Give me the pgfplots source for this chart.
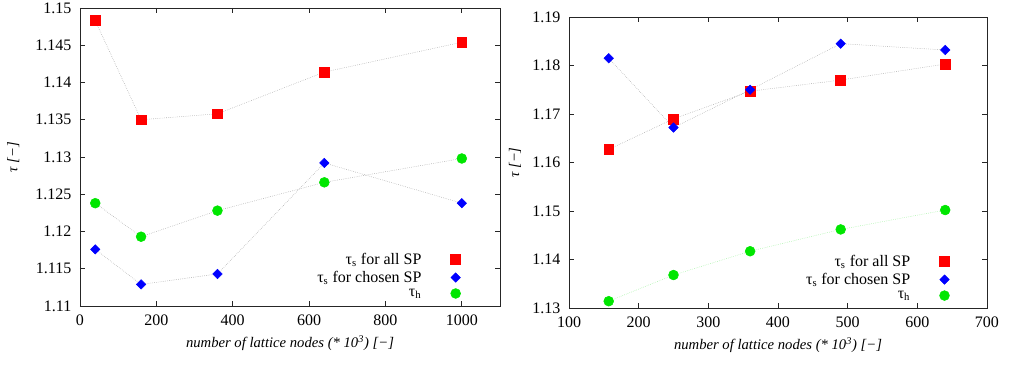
\documentclass[border=0pt]{standalone}
\usepackage{fontspec}
\setmainfont{Liberation Serif}
\usepackage{pgfplots}
\pgfplotsset{compat=1.18}
\definecolor{pred}{RGB}{255,0,0}
\definecolor{pblue}{RGB}{0,0,255}
\definecolor{pgreen}{RGB}{0,230,0}
\definecolor{lgray}{RGB}{160,160,160}
\definecolor{lgreen}{RGB}{150,240,150}
\pgfplotsset{mystyle/.style={
  scale only axis,
  tick align=inside,
  axis line style={black!85, line width=0.6pt},
  major tick style={black!85, line width=0.5pt},
  major tick length=4pt,
  tick label style={font=\fontsize{12}{14}\selectfont},
  label style={font=\fontsize{11}{13}\selectfont\itshape},
  /pgf/number format/assume math mode=true,
  /pgf/number format/precision=3,
  /pgf/number format/1000 sep={},
  yticklabel style={/pgf/number format/fixed, xshift=-3pt},
  xticklabel style={yshift=-3pt},
  xlabel={number of lattice nodes (* 10\textsuperscript{3}) [−]},
  xlabel style={at={(axis description cs:0.5,0)}, anchor=center, yshift=-28pt},
  ylabel={τ [−]},
  legend plot pos=right,
  legend cell align=right,
  legend style={draw=none, fill=none, anchor=south east,
    font=\fontsize{12}{13}\selectfont, row sep=-0.5pt, inner sep=1pt,
    /tikz/every odd column/.append style={column sep=20pt}},
  dmd/.style={only marks, mark=square*, mark size=2.5pt, mark options={rotate=45}, color=pblue},
  sqr/.style={only marks, mark=square*, mark size=3.7pt, color=pred},
  crc/.style={only marks, mark=*, mark size=3.7pt, color=pgreen},
  ln/.style={densely dotted, line width=0.4pt, forget plot},
}}
\begin{document}
\begin{tikzpicture}
\path[use as bounding box] (-60pt,-45.75pt) rectangle (701.25pt,229.5pt);
\begin{axis}[mystyle, at={(0pt,0pt)}, anchor=south west,
  width=315pt, height=223.5pt,
  xmin=0, xmax=1100, ymin=1.11, ymax=1.15,
  xtick={0,200,400,600,800,1000},
  ytick={1.11,1.115,1.12,1.125,1.13,1.135,1.14,1.145,1.15},
  ylabel style={at={(axis description cs:-0.159,0.5)}, anchor=center},
  legend style={at={(0.91,0.012)}},
]
\addplot[lgray, ln] coordinates {(40,1.1483)(160,1.1350)(360,1.1358)(640,1.1414)(1000,1.1454)};
\addplot[lgray, ln] coordinates {(40,1.1176)(160,1.1129)(360,1.1143)(640,1.1292)(1000,1.1238)};
\addplot[lgray, ln] coordinates {(40,1.1238)(160,1.1193)(360,1.1228)(640,1.1266)(1000,1.1298)};
\addplot[sqr] coordinates {(40,1.1483)(160,1.1350)(360,1.1358)(640,1.1414)(1000,1.1454)};
\addplot[dmd] coordinates {(40,1.1176)(160,1.1129)(360,1.1143)(640,1.1292)(1000,1.1238)};
\addplot[crc] coordinates {(40,1.1238)(160,1.1193)(360,1.1228)(640,1.1266)(1000,1.1298)};
\legend{τ\textsubscript{s} for all SP, τ\textsubscript{s} for chosen SP, τ\textsubscript{h}}
\end{axis}
\begin{axis}[mystyle, at={(366.75pt,-1.5pt)}, anchor=south west,
  width=313.5pt, height=218.25pt,
  xmin=100, xmax=700, ymin=1.13, ymax=1.19,
  xtick={100,200,300,400,500,600,700},
  ytick={1.13,1.14,1.15,1.16,1.17,1.18,1.19},
  ylabel style={at={(axis description cs:-0.129,0.5)}, anchor=center},
  legend style={at={(0.914,0.012)}},
]
\addplot[lgray, ln] coordinates {(157,1.1627)(250,1.1690)(360,1.1747)(490,1.1770)(640,1.1803)};
\addplot[lgray, ln] coordinates {(157,1.1815)(250,1.1672)(360,1.1750)(490,1.1845)(640,1.1832)};
\addplot[lgreen, ln] coordinates {(157,1.1314)(250,1.1368)(360,1.1417)(490,1.1462)(640,1.1502)};
\addplot[sqr] coordinates {(157,1.1627)(250,1.1690)(360,1.1747)(490,1.1770)(640,1.1803)};
\addplot[dmd] coordinates {(157,1.1815)(250,1.1672)(360,1.1750)(490,1.1845)(640,1.1832)};
\addplot[crc] coordinates {(157,1.1314)(250,1.1368)(360,1.1417)(490,1.1462)(640,1.1502)};
\legend{τ\textsubscript{s} for all SP, τ\textsubscript{s} for chosen SP, τ\textsubscript{h}}
\end{axis}
\end{tikzpicture}
\end{document}
